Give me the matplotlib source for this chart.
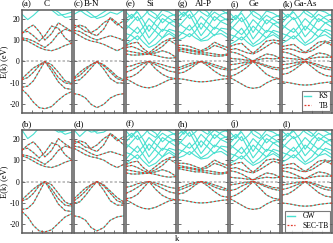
import matplotlib
matplotlib.use('Agg')
import matplotlib.pyplot as plt
from matplotlib.lines import Line2D

plt.rcParams['font.family'] = ['Liberation Serif', 'DejaVu Serif']
plt.rcParams['axes.unicode_minus'] = False

# k-path sampling (L - Gamma - X), shared by all panels
k = [0, 0.115, 0.23, 0.345, 0.46, 0.595, 0.73, 0.865, 1.0]

# ---------------- top row: KS (cyan) / TB (red) ----------------
C_KS_vb = [[-13, -15.5, -19, -21.5, -22, -21, -18, -15.5, -14],
           [-12, -11.5, -9, -4.5, 0, -4.5, -9.5, -12.5, -13],
           [-8.5, -7.5, -5, -2, 0, -3, -7.5, -10, -10.5],
           [-8, -5.5, -3, -1.5, 0, -1.5, -5, -9, -10]]
C_KS_cb = [[10.5, 9.5, 8, 6.5, 5.5, 5, 6, 7.5, 8.5],
           [11, 10.5, 9.5, 8, 6.5, 9, 13, 15, 14],
           [13, 15.5, 17, 14, 10, 13, 18, 16, 14],
           [13.5, 14, 12, 9.5, 12, 16.5, 15.5, 11, 8.5]]
C_KS_hi = [[22, 19.5, 21.5, 24, 25, 25, 23, 20.5, 21],
           [25, 24, 25, 26, 26, 24, 21.5, 22, 23]]

BN_KS_vb = [[-15, -15.5, -17, -20, -21.5, -20, -17, -15.5, -15],
            [-9, -8.5, -6, -3, 0, -3.5, -8, -10, -10],
            [-8, -6.5, -4, -1.5, 0, -2, -5, -8, -9],
            [-7.5, -5, -3, -1.5, 0, -1.5, -4, -7, -8.5]]
BN_KS_cb = [[13.5, 12, 10.5, 9.5, 9, 8, 6.5, 5, 6.5],
            [14.5, 14, 12.5, 11, 10, 11, 12, 11, 10],
            [15.5, 17, 16, 13, 12, 15, 20.5, 18, 15],
            [17, 16, 14, 13.5, 15, 18, 20, 17, 19]]
BN_KS_hi = [[22, 23.5, 24, 22, 20, 21, 23, 22, 24],
            [25, 24, 22, 20.5, 21, 23, 25, 26, 26]]

Si_KS_vb = [[-8, -9.5, -11, -12, -12.3, -11.5, -10, -8.5, -8],
            [-7.5, -7, -5.5, -3, 0, -3.5, -6, -7.5, -8],
            [-5, -4, -2.5, -1, 0, -1.5, -3, -4.5, -5],
            [-2.5, -2, -1, -0.5, 0, -0.7, -1.5, -2.5, -3]]
Si_KS_cb = [[3.5, 3, 3, 3.2, 3.4, 2.8, 2, 1.5, 1.8],
            [5, 4.5, 4, 3.6, 3.4, 4, 5, 4, 2],
            [6.5, 7, 6, 4.5, 3.6, 5, 7, 10, 8],
            [7.5, 8.5, 9, 6, 4, 6.5, 9, 10.5, 11]]
Si_KS_hi = [[8, 10, 12, 9, 6.5, 8, 11, 13, 11],
            [10, 13, 16, 12, 8, 11, 15, 14, 12],
            [13, 12, 10, 13, 17, 14, 11, 15, 14],
            [15, 18, 21, 16, 11, 15, 20, 18, 16],
            [17, 15, 13, 16, 20, 17, 14, 18, 19],
            [20, 22, 19, 21, 24, 22, 18, 21, 22],
            [23, 20, 24, 26, 22, 20, 24, 23, 21],
            [18, 21, 23, 19, 14, 19, 22, 20, 18]]

AlP_KS_vb = [[-8, -8.3, -8.8, -9.3, -9.5, -9.3, -8.8, -8.3, -8],
             [-5.5, -5, -3.5, -1.5, 0, -2, -4.5, -6.5, -7],
             [-4, -3, -2, -0.8, 0, -1, -2.5, -3.5, -4],
             [-3, -2, -1, -0.4, 0, -0.5, -1.5, -2.5, -3.5]]
AlP_KS_cb = [[5, 4.5, 4, 3.5, 3.5, 3, 2.5, 2.5, 3],
             [5.5, 5.5, 5, 4.5, 4, 4, 3.5, 3, 3.5],
             [6.5, 6, 5.5, 5, 4.5, 5.5, 7.5, 6.5, 5],
             [7.5, 7.5, 7, 6, 5, 6.5, 9, 7.5, 6.5]]
AlP_KS_hi = [[10, 11, 13, 11, 9.5, 10, 12.5, 13, 11],
             [11.5, 14, 17, 13, 10, 12, 16, 14.5, 12.5],
             [14, 13, 11.5, 14, 18, 15, 12, 15.5, 15],
             [16, 19, 22, 17, 12, 16, 21, 18.5, 17],
             [18, 16, 14.5, 17, 21, 18, 15, 19, 20],
             [21, 23, 20, 22, 25, 23, 19, 22, 23],
             [24, 21, 24.5, 26, 23, 21, 25, 24, 22],
             [19, 22, 24, 20, 15, 20, 23, 21, 19]]

Ge_KS_vb = [[-7.5, -9, -10.5, -12, -12.5, -12, -10, -8.5, -8],
            [-7, -6, -4.5, -2.5, 0, -3, -6, -7.5, -8],
            [-4, -3.5, -2, -1, 0, -1.2, -2.5, -3.5, -4],
            [-1.5, -1.2, -0.7, -0.3, 0, -0.8, -1.8, -2.7, -3]]
Ge_KS_cb = [[1.5, 1.2, 1, 0.6, 0.3, 1, 1.5, 1.2, 1.5],
            [4.5, 4, 3, 1.5, 0.3, 2, 3.5, 3, 1.5],
            [5.5, 6, 5, 4, 3.5, 5, 7, 9, 8],
            [7, 8, 8.5, 6, 3.8, 6.5, 9.5, 10, 9.5]]
Ge_KS_hi = [[8, 9.5, 11.5, 9, 7, 8.5, 11, 12.5, 10.5],
            [9.5, 12.5, 15.5, 11.5, 8, 10.5, 14.5, 13.5, 11.5],
            [12.5, 11.5, 10, 12.5, 16.5, 13.5, 11, 14.5, 13.5],
            [14.5, 17.5, 20.5, 15.5, 10.5, 14.5, 19.5, 17.5, 15.5],
            [16.5, 14.5, 12.5, 15.5, 19.5, 16.5, 13.5, 17.5, 18.5],
            [19.5, 21.5, 18.5, 20.5, 23.5, 21.5, 17.5, 20.5, 21.5],
            [22.5, 19.5, 23.5, 25.5, 21.5, 19.5, 23.5, 22.5, 20.5],
            [17.5, 20.5, 22.5, 18.5, 13.5, 18.5, 21.5, 19.5, 17.5]]

GaAs_KS_vb = [[-9.5, -9.8, -10.3, -10.8, -11, -10.8, -10.2, -9.8, -9.5],
              [-6, -5.5, -4, -2, 0, -2.5, -5, -6.5, -7],
              [-3.5, -3, -2, -1, 0, -1, -2.5, -3.5, -4],
              [-1.5, -1.2, -0.7, -0.3, 0, -0.6, -1.5, -2.5, -3]]
GaAs_KS_cb = [[2, 1.5, 1.2, 1, 0.8, 1.5, 2, 2, 2],
              [4.5, 4, 3, 1.8, 0.8, 2.5, 4, 3.5, 2.2],
              [5.5, 6, 5.5, 4.5, 4, 5, 7, 9, 7.5],
              [7, 7.5, 8, 6, 4.2, 6.5, 9, 9.5, 8.5]]
GaAs_KS_hi = [[8.5, 10, 12, 9.5, 7.5, 9, 11.5, 12.5, 10.5],
              [10, 13, 15.5, 12, 8.5, 11, 15, 14, 12],
              [13, 12, 10.5, 13, 16.5, 14, 11.5, 15, 14],
              [15, 18, 20.5, 16, 11.5, 15, 20, 18, 16],
              [17, 15, 13.5, 16.5, 20, 17, 14.5, 18, 19],
              [20, 22, 19.5, 21, 24, 22, 18.5, 21, 22],
              [23, 20.5, 24, 26, 22.5, 20.5, 24, 23, 21],
              [18, 21, 23, 19.5, 14.5, 19, 22, 20, 18]]

# ---------------- bottom row: GW (cyan) / SEC-TB (red) ----------------
C_GW_vb = [[-14, -16.5, -20.5, -23, -23.5, -22.5, -19.5, -16.5, -15],
           [-13, -12.5, -10, -5, 0, -5, -10.5, -13.5, -14],
           [-9, -8, -5.5, -2, 0, -3.5, -8, -11, -11.5],
           [-8.5, -6, -3.5, -1.5, 0, -1.5, -5.5, -9.5, -11]]
C_GW_cb = [[12, 11, 9.5, 8, 7, 6.5, 7.5, 9, 10],
           [12.5, 12, 11, 9.5, 8, 10.5, 14.5, 16.5, 15.5],
           [14.5, 17, 18.5, 15.5, 11.5, 14.5, 20, 17.5, 15.5],
           [15, 15.5, 13.5, 11, 13.5, 18, 17, 12.5, 10]]
C_GW_hi = [[24, 20, 22, 25, 26, 26, 24, 22, 23],
           [26, 25, 26, 27, 27, 25, 23, 23.5, 24.5]]

BN_GW_vb = [[-16, -16.5, -18, -21.5, -23, -21.5, -18, -16.5, -16],
            [-10, -9.5, -6.5, -3, 0, -4, -9, -11, -11],
            [-9, -7, -4.5, -1.5, 0, -2, -5.5, -9, -10],
            [-8, -5.5, -3, -1.5, 0, -1.5, -4.5, -7.5, -9.5]]
BN_GW_cb = [[15.5, 14, 12.5, 11.5, 11, 10, 8, 6.5, 8],
            [16.5, 16, 14.5, 13, 12, 13, 14, 13, 12],
            [17.5, 19, 18, 15, 14, 17, 22.5, 20, 17],
            [19, 18, 16, 15.5, 17, 20, 22, 19, 21]]
BN_GW_hi = [[24, 21, 23.5, 25, 22.5, 23, 25, 24.5, 26],
            [26, 26, 24.5, 23, 23.5, 25, 27, 27, 27]]

Si_GW_vb = [[-8.5, -10, -11.5, -12.5, -12.8, -12, -10.5, -9, -8.5],
            [-8, -7.5, -6, -3, 0, -3.7, -6.5, -8, -8.5],
            [-5.5, -4.3, -2.7, -1, 0, -1.6, -3.2, -4.8, -5.5],
            [-2.7, -2.1, -1, -0.5, 0, -0.7, -1.6, -2.7, -3.2]]
Si_GW_cb = [[4, 3.5, 3.5, 3.7, 3.9, 3.3, 2.5, 2, 2.3],
            [5.5, 5, 4.5, 4.1, 3.9, 4.5, 5.5, 4.5, 2.5],
            [7, 7.5, 6.5, 5, 4.1, 5.5, 7.5, 10.5, 8.5],
            [8, 9, 9.5, 6.5, 4.5, 7, 9.5, 11, 11.5]]
Si_GW_hi = [[8.5, 10.5, 12.5, 9.5, 7, 8.5, 11.5, 13.5, 11.5],
            [10.5, 13.5, 16.5, 12.5, 8.5, 11.5, 15.5, 14.5, 12.5],
            [13.5, 12.5, 10.5, 13.5, 17.5, 14.5, 11.5, 15.5, 14.5],
            [15.5, 18.5, 21.5, 16.5, 11.5, 15.5, 20.5, 18.5, 16.5],
            [17.5, 15.5, 13.5, 16.5, 20.5, 17.5, 14.5, 18.5, 19.5],
            [20.5, 22.5, 19.5, 21.5, 24.5, 22.5, 18.5, 21.5, 22.5],
            [23.5, 20.5, 24.5, 26.5, 22.5, 20.5, 24.5, 23.5, 21.5],
            [18.5, 21.5, 23.5, 19.5, 14.5, 19.5, 22.5, 20.5, 18.5]]

AlP_GW_vb = [[-8.5, -8.8, -9.3, -9.8, -10, -9.8, -9.3, -8.8, -8.5],
             [-5.8, -5.3, -3.7, -1.6, 0, -2.1, -4.7, -6.8, -7.3],
             [-4.2, -3.2, -2.1, -0.8, 0, -1, -2.6, -3.7, -4.2],
             [-3.2, -2.1, -1, -0.4, 0, -0.5, -1.6, -2.6, -3.7]]
AlP_GW_cb = [[6, 5.5, 5, 4.5, 4.5, 4, 3.5, 3.5, 4],
             [6.5, 6.5, 6, 5.5, 5, 5, 4.5, 4, 4.5],
             [7.5, 7, 6.5, 6, 5.5, 6.5, 8.5, 7.5, 6],
             [8.5, 8.5, 8, 7, 6, 7.5, 10, 8.5, 7.5]]
AlP_GW_hi = [[11, 12, 14, 12, 10.5, 11, 13.5, 14, 12],
             [12.5, 15, 18, 14, 11, 13, 17, 15.5, 13.5],
             [15, 14, 12.5, 15, 19, 16, 13, 16.5, 16],
             [17, 20, 23, 18, 13, 17, 22, 19.5, 18],
             [19, 17, 15.5, 18, 22, 19, 16, 20, 21],
             [22, 24, 21, 23, 26, 24, 20, 23, 24],
             [25, 22, 25.5, 27, 24, 22, 26, 25, 23],
             [20, 23, 25, 21, 16, 21, 24, 22, 20]]

Ge_GW_vb = [[-8, -9.5, -11, -12.5, -13, -12.5, -10.5, -9, -8.5],
            [-7.3, -6.3, -4.7, -2.6, 0, -3.1, -6.3, -7.8, -8.3],
            [-4.2, -3.6, -2.1, -1, 0, -1.2, -2.6, -3.6, -4.2],
            [-1.6, -1.2, -0.7, -0.3, 0, -0.8, -1.9, -2.8, -3.1]]
Ge_GW_cb = [[2, 1.7, 1.5, 1.1, 0.8, 1.5, 2, 1.7, 2],
            [5, 4.5, 3.5, 2, 0.8, 2.5, 4, 3.5, 2],
            [6, 6.5, 5.5, 4.5, 4, 5.5, 7.5, 9.5, 8.5],
            [7.5, 8.5, 9, 6.5, 4.3, 7, 10, 10.5, 10]]
Ge_GW_hi = [[8.5, 10, 12, 9.5, 7.5, 9, 11.5, 13, 11],
            [10, 13, 16, 12, 8.5, 11, 15, 14, 12],
            [13, 12, 10.5, 13, 17, 14, 11.5, 15, 14],
            [15, 18, 21, 16, 11, 15, 20, 18, 16],
            [17, 15, 13, 16, 20, 17, 14, 18, 19],
            [20, 22, 19, 21, 24, 22, 18, 21, 22],
            [23, 20, 24, 26, 22, 20, 24, 23, 21],
            [18, 21, 23, 19, 14, 19, 22, 20, 18]]

GaAs_GW_vb = [[-10, -10.3, -10.8, -11.3, -11.5, -11.3, -10.7, -10.3, -10],
              [-6.3, -5.8, -4.2, -2.1, 0, -2.6, -5.2, -6.8, -7.3],
              [-3.7, -3.1, -2.1, -1, 0, -1, -2.6, -3.7, -4.2],
              [-1.6, -1.2, -0.7, -0.3, 0, -0.6, -1.6, -2.6, -3.1]]
GaAs_GW_cb = [[2.5, 2, 1.7, 1.5, 1.3, 2, 2.5, 2.5, 2.5],
              [5, 4.5, 3.5, 2.3, 1.3, 3, 4.5, 4, 2.7],
              [6, 6.5, 6, 5, 4.5, 5.5, 7.5, 9.5, 8],
              [7.5, 8, 8.5, 6.5, 4.7, 7, 9.5, 10, 9]]
GaAs_GW_hi = [[9, 10.5, 12.5, 10, 8, 9.5, 12, 13, 11],
              [10.5, 13.5, 16, 12.5, 9, 11.5, 15.5, 14.5, 12.5],
              [13.5, 12.5, 11, 13.5, 17, 14.5, 12, 15.5, 14.5],
              [15.5, 18.5, 21, 16.5, 12, 15.5, 20.5, 18.5, 16.5],
              [17.5, 15.5, 14, 17, 20.5, 17.5, 15, 18.5, 19.5],
              [20.5, 22.5, 20, 21.5, 24.5, 22.5, 19, 21.5, 22.5],
              [23.5, 21, 24.5, 26.5, 23, 21, 24.5, 23.5, 21.5],
              [18.5, 21.5, 23.5, 20, 15, 19.5, 22.5, 20.5, 18.5]]

top_panels = [(C_KS_vb, C_KS_cb, C_KS_hi), (BN_KS_vb, BN_KS_cb, BN_KS_hi),
              (Si_KS_vb, Si_KS_cb, Si_KS_hi), (AlP_KS_vb, AlP_KS_cb, AlP_KS_hi),
              (Ge_KS_vb, Ge_KS_cb, Ge_KS_hi), (GaAs_KS_vb, GaAs_KS_cb, GaAs_KS_hi)]
bot_panels = [(C_GW_vb, C_GW_cb, C_GW_hi), (BN_GW_vb, BN_GW_cb, BN_GW_hi),
              (Si_GW_vb, Si_GW_cb, Si_GW_hi), (AlP_GW_vb, AlP_GW_cb, AlP_GW_hi),
              (Ge_GW_vb, Ge_GW_cb, Ge_GW_hi), (GaAs_GW_vb, GaAs_GW_cb, GaAs_GW_hi)]

top_letters = ['(a)', '(c)', '(e)', '(g)', '(i)', '(k)']
bot_letters = ['(b)', '(d)', '(f)', '(h)', '(j)', '(l)']
materials = ['C', 'B-N', 'Si', 'Al-P', 'Ge', 'Ga-As']
name_x = [0.5, 0.36, 0.48, 0.5, 0.48, 0.46]

cyan = '#48e0d0'
red = '#e0392b'
frame = '#5a5a5a'

fig = plt.figure(figsize=(3.33, 2.43), dpi=100)
axes = fig.subplots(2, 6, sharey=True)
fig.subplots_adjust(left=0.066, right=0.997, top=0.959, bottom=0.041,
                    wspace=0.045, hspace=0.165)

for row, panels, letters in [(0, top_panels, top_letters), (1, bot_panels, bot_letters)]:
    for j in range(6):
        ax = axes[row, j]
        vb, cb, hi = panels[j]
        ax.axhline(0, color='#b8b8b8', lw=1.2, ls=(0, (1.5, 1.2)), zorder=1)
        for band in vb + cb + hi:
            ax.plot(k, band, color=cyan, lw=0.8, zorder=2)
        for band in vb + cb:
            ax.plot(k, band, color=red, lw=0.8, ls=(0, (2, 1.6)), zorder=3)
        ax.set_xlim(0, 1)
        ax.set_ylim(-24, 24)
        ax.set_yticks([-20, -10, 0, 10, 20])
        ax.set_xticks([0.2, 0.4, 0.6, 0.8])
        ax.set_xticklabels([])
        ax.tick_params(direction='in', length=2, width=0.6, colors=frame,
                       labelsize=5.5, labelcolor='black', right=True, pad=1.5)
        for s in ax.spines.values():
            s.set_color(frame)
            s.set_linewidth(1.1)
        ax.text(0.0, 1.02, letters[j], transform=ax.transAxes, fontsize=6.5,
                ha='left', va='bottom')
        if row == 0:
            ax.text(name_x[j], 1.02, materials[j], transform=ax.transAxes,
                    fontsize=6.5, ha='center', va='bottom')
    axes[row, 0].set_ylabel('E(k) (eV)', fontsize=6, labelpad=1)

leg_style = dict(loc='lower right', fontsize=5.5, frameon=True, fancybox=False,
                 edgecolor=frame, handlelength=1.0, handletextpad=1.0,
                 borderpad=0.25, labelspacing=0.15, borderaxespad=0.2)
h_cyan = Line2D([], [], color=cyan, lw=1.0)
h_red = Line2D([], [], color=red, lw=0.9, ls=(0, (1.5, 1.2)))
lg = axes[0, 5].legend([h_cyan, h_red], ['KS', 'TB'], **leg_style)
lg.get_frame().set_linewidth(0.8)
lg = axes[1, 5].legend([h_cyan, h_red], ['GW', 'SEC-TB'], **leg_style)
lg.get_frame().set_linewidth(0.8)

fig.text(0.532, 0.0, 'k', fontsize=6, ha='center', va='bottom')

fig.savefig('out.png', dpi=100)
